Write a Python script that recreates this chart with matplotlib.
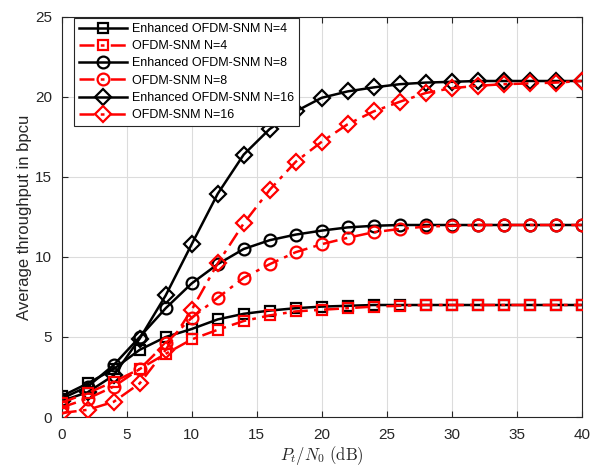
import numpy as np
import matplotlib
matplotlib.use("Agg")
import matplotlib.pyplot as plt

plt.rcParams['font.family'] = ['Liberation Sans', 'DejaVu Sans']
plt.rcParams['mathtext.fontset'] = 'cm'

snr_db = [0, 2, 4, 6, 8, 10, 12, 14, 16, 18, 20, 22, 24, 26, 28, 30, 32, 34, 36, 38, 40]

enh_n4 = [1.3, 2.1, 3.0, 4.2, 5.0, 5.5, 6.1, 6.45, 6.65, 6.8, 6.9, 6.95, 7.0, 7.0, 7.0,
          7.0, 7.0, 7.0, 7.0, 7.0, 7.0]
ofdm_n4 = [0.9, 1.5, 2.2, 3.0, 3.95, 4.85, 5.45, 6.0, 6.35, 6.6, 6.7, 6.8, 6.9, 6.95, 7.0,
           7.0, 7.0, 7.0, 7.0, 7.0, 7.0]
enh_n8 = [1.15, 1.9, 3.25, 5.0, 6.8, 8.35, 9.55, 10.5, 11.05, 11.4, 11.65, 11.85, 11.95,
          12.0, 12.0, 12.0, 12.0, 12.0, 12.0, 12.0, 12.0]
ofdm_n8 = [0.6, 1.15, 1.9, 3.0, 4.6, 6.2, 7.45, 8.7, 9.55, 10.3, 10.8, 11.2, 11.55, 11.75,
           11.9, 11.95, 12.0, 12.0, 12.0, 12.0, 12.0]
enh_n16 = [1.0, 1.55, 2.6, 4.9, 7.6, 10.8, 13.95, 16.4, 18.0, 19.1, 19.95, 20.35, 20.6,
           20.8, 20.9, 20.95, 21.0, 21.0, 21.0, 21.0, 21.0]
ofdm_n16 = [0.25, 0.45, 0.95, 2.1, 4.2, 6.7, 9.6, 12.1, 14.2, 15.95, 17.2, 18.3, 19.1,
            19.7, 20.25, 20.55, 20.7, 20.8, 20.85, 20.9, 21.0]

labels = ['Enhanced OFDM-SNM N=4', 'OFDM-SNM N=4',
          'Enhanced OFDM-SNM N=8', 'OFDM-SNM N=8',
          'Enhanced OFDM-SNM N=16', 'OFDM-SNM N=16']

fig = plt.figure(figsize=(6.05, 4.69), dpi=100)
ax = fig.add_axes([61.7 / 605, 1 - 417 / 469, 520 / 605, 400 / 469])

dashdot = (0, (6, 2.5, 1.5, 2.5))
series = [(enh_n4, 'k', '-', 's'), (ofdm_n4, 'r', dashdot, 's'),
          (enh_n8, 'k', '-', 'o'), (ofdm_n8, 'r', dashdot, 'o'),
          (enh_n16, 'k', '-', 'D'), (ofdm_n16, 'r', dashdot, 'D')]

for (y, c, ls, m), lab in zip(series, labels):
    ms = 8.5 if m == 'o' else (7.5 if m == 's' else 8)
    ax.plot(snr_db, y, color=c, linestyle=ls, linewidth=1.8, marker=m,
            markersize=ms, markerfacecolor='none', markeredgewidth=1.6,
            label=lab, zorder=3 if c == 'r' else 2)

ax.set_xlim(0, 40)
ax.set_ylim(0, 25)
ax.set_xticks(np.arange(0, 41, 5))
ax.set_yticks(np.arange(0, 26, 5))
ax.grid(True, color='#dcdcdc', linewidth=0.8)
ax.set_axisbelow(True)
ax.tick_params(direction='in', top=True, right=True, length=4, labelsize=11,
               colors='#262626', width=0.8)
ax.tick_params(axis='x', pad=8)
ax.tick_params(axis='y', pad=7)
for s in ax.spines.values():
    s.set_color('#262626')
    s.set_linewidth(0.8)

ax.set_xlabel(r'$P_t/N_0\ \mathrm{(dB)}$', fontsize=12, color='#262626', labelpad=1)
ax.set_ylabel('Average throughput in bpcu', fontsize=12, color='#262626', labelpad=2)

leg = ax.legend(loc='upper left', bbox_to_anchor=(74 / 605, 1 - 18 / 469),
                bbox_transform=fig.transFigure, borderaxespad=0, fontsize=9,
                fancybox=False, edgecolor='#262626', framealpha=1,
                handlelength=3.8, handletextpad=0.4, labelspacing=0.42,
                borderpad=0.4)
leg.get_frame().set_linewidth(0.8)

fig.savefig('out.png', dpi=100)
